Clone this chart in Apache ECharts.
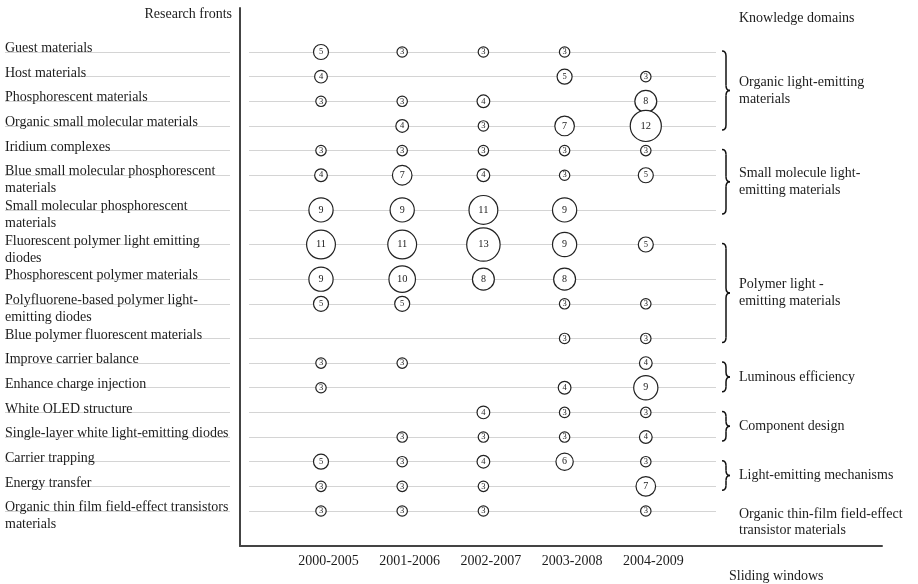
<!DOCTYPE html>
<html><head><meta charset="utf-8">
<script src="https://cdn.jsdelivr.net/npm/echarts@6/dist/echarts.min.js"></script>
<style>html,body{margin:0;padding:0;background:#fff}#c{width:918px;height:584px}</style>
</head><body><div id="c"></div>
<script>
// ---- data ----
const windows = ['2000-2005', '2001-2006', '2002-2007', '2003-2008', '2004-2009'];
const fronts = [
  'Guest materials',
  'Host materials',
  'Phosphorescent materials',
  'Organic small molecular materials',
  'Iridium complexes',
  'Blue small molecular phosphorescent\nmaterials',
  'Small molecular phosphorescent\nmaterials',
  'Fluorescent polymer light emitting\ndiodes',
  'Phosphorescent polymer materials',
  'Polyfluorene-based polymer light-\nemitting diodes',
  'Blue polymer fluorescent materials',
  'Improve carrier balance',
  'Enhance charge injection',
  'White OLED structure',
  'Single-layer white light-emitting diodes',
  'Carrier trapping',
  'Energy transfer',
  'Organic thin film field-effect transistors\nmaterials'
];
const v2000 = [5, 4, 3, null, 3, 4, 9, 11, 9, 5, null, 3, 3, null, null, 5, 3, 3];
const v2001 = [3, null, 3, 4, 3, 7, 9, 11, 10, 5, null, 3, null, null, 3, 3, 3, 3];
const v2002 = [3, null, 4, 3, 3, 4, 11, 13, 8, null, null, null, null, 4, 3, 4, 3, 3];
const v2003 = [3, 5, null, 7, 3, 3, 9, 9, 8, 3, 3, null, 4, 3, 3, 6, null, null];
const v2004 = [null, 3, 8, 12, 3, 5, null, 5, null, 3, 3, 4, 9, 3, 4, 3, 7, 3];
const columns = [v2000, v2001, v2002, v2003, v2004];

const domainNames = [
  'Organic light-emitting\nmaterials',
  'Small molecule light-\nemitting materials',
  'Polymer light -\nemitting materials',
  'Luminous efficiency',
  'Component design',
  'Light-emitting mechanisms',
  'Organic thin-film field-effect\ntransistor materials'
];
const domainFirst = [0, 4, 7, 11, 13, 15, 17];
const domainLast  = [3, 6, 10, 12, 14, 16, 17];

// ---- row layout: each front takes room according to how many lines its label has ----
const EXTRA_PER_LINE = 0.405;
const rowPos = [];
fronts.forEach((f, i) => {
  if (i === 0) { rowPos.push(0); return; }
  const prevLines = fronts[i - 1].split('\n').length;
  rowPos.push(rowPos[i - 1] + 1 + EXTRA_PER_LINE * (prevLines - 1));
});
const yMax = rowPos[rowPos.length - 1];
function frontAt(v) {
  let best = 0;
  rowPos.forEach((p, i) => { if (Math.abs(p - v) < Math.abs(rowPos[best] - v)) best = i; });
  return fronts[best];
}

// ---- chart ----
const FONT = 'Liberation Serif';
const TXT = '#1c1c1c';
const chart = echarts.init(document.getElementById('c'), null, { renderer: 'canvas' });

const hiddenVal = (gi) => ({ type: 'value', gridIndex: gi, show: false, min: 0, max: 1 });
const txt = (lh) => ({ fontFamily: FONT, fontSize: 14, color: TXT, lineHeight: lh });
const rowAxis = (gi, withLabels) => ({
  type: 'value', gridIndex: gi, inverse: true, min: 0, max: yMax,
  axisLine: { show: false },
  axisTick: { show: false, customValues: rowPos },
  splitLine: { show: true, lineStyle: { color: '#d4d4d4', width: 1 } },
  axisLabel: withLabels ? {
    show: true, customValues: rowPos, hideOverlap: false,
    align: 'left', verticalAlign: 'middle', margin: 244,
    fontFamily: FONT, fontSize: 14, color: TXT,
    formatter: (v) => {
      const lines = frontAt(v).split('\n');
      if (lines.length < 2) return '{c|' + lines[0] + '}\n{s| }';
      return '{a|' + lines[0] + '}\n{b|' + lines[1] + '}';
    },
    rich: {
      a: txt(27), b: txt(7), c: txt(4),
      s: { fontSize: 4, lineHeight: 7 }
    }
  } : { show: false }
});

const series = columns.map((col, ci) => ({
  type: 'scatter',
  name: windows[ci],
  xAxisIndex: 3,
  yAxisIndex: 3,
  data: col.map((v, ri) => v == null ? null : {
    value: [ci, rowPos[ri], v],
    label: { fontSize: v >= 10 ? 10.5 : (v >= 6 ? 10 : 8.5) }
  }).filter(d => d),
  symbol: 'circle',
  symbolSize: (d) => 2.3 * d[2] + 3.5,
  itemStyle: { color: '#fff', borderColor: '#222', borderWidth: 1.2, opacity: 1 },
  label: {
    show: true, position: 'inside', color: '#222', fontFamily: FONT,
    formatter: (p) => String(p.value[2])
  },
  emphasis: { disabled: true },
  z: 5
}));

chart.setOption({
  animation: false,
  backgroundColor: '#fff',
  grid: [
    { left: 240, top: 8, width: 642, height: 538 },
    { left: 249, top: 52, width: 467, height: 459 },
    { left: 5, top: 52, width: 225, height: 459 },
    { left: 280.4, top: 52, width: 406, height: 459 }
  ],
  xAxis: [
    { type: 'value', gridIndex: 0, min: 0, max: 1,
      axisLine: { show: true, lineStyle: { color: '#444', width: 2 } },
      axisTick: { show: false }, axisLabel: { show: false }, splitLine: { show: false } },
    hiddenVal(1),
    hiddenVal(2),
    { type: 'category', gridIndex: 3, data: windows, position: 'bottom', offset: 35,
      axisLine: { show: false }, axisTick: { show: false }, splitLine: { show: false },
      axisLabel: { margin: 8, fontFamily: FONT, fontSize: 14, color: TXT, padding: [0, 0, 0, 15] } }
  ],
  yAxis: [
    { type: 'value', gridIndex: 0, min: 0, max: 1,
      axisLine: { show: true, lineStyle: { color: '#444', width: 2 } },
      axisTick: { show: false }, axisLabel: { show: false }, splitLine: { show: false } },
    rowAxis(1, true),
    rowAxis(2, false),
    { type: 'value', gridIndex: 3, inverse: true, min: 0, max: yMax, show: false, splitLine: { show: false } }
  ],
  series: series
});

// ---- annotations placed through the axes' own scales ----
function rowY(i) { return chart.convertToPixel({ yAxisIndex: 1 }, rowPos[i]); }
const graphics = [];
const braceX = 722, braceW = 8, textX = 739;
const stroke = { stroke: '#111', lineWidth: 1.5, fill: 'none' };
domainNames.forEach((name, di) => {
  const y0 = rowY(domainFirst[di]), y1 = rowY(domainLast[di]);
  if (domainLast[di] > domainFirst[di]) {
    const a = y0 - 1, b = y1 + 4, m = (a + b) / 2, x = braceX, h = braceW / 2, w = braceW;
    const segs = [
      { type: 'bezierCurve', shape: { x1: x, y1: a, cpx1: x + h, cpy1: a, x2: x + h, y2: a + 5 } },
      { type: 'line', shape: { x1: x + h, y1: a + 5, x2: x + h, y2: m - 5 } },
      { type: 'bezierCurve', shape: { x1: x + h, y1: m - 5, cpx1: x + h, cpy1: m, x2: x + w, y2: m } },
      { type: 'bezierCurve', shape: { x1: x + w, y1: m, cpx1: x + h, cpy1: m, x2: x + h, y2: m + 5 } },
      { type: 'line', shape: { x1: x + h, y1: m + 5, x2: x + h, y2: b - 5 } },
      { type: 'bezierCurve', shape: { x1: x + h, y1: b - 5, cpx1: x + h, cpy1: b, x2: x, y2: b } }
    ];
    segs.forEach(s => { s.style = Object.assign({}, stroke); graphics.push(s); });
    graphics.push({ type: 'text', x: textX, y: m,
      style: { text: name, fontFamily: FONT, fontSize: 14, fill: TXT, lineHeight: 17,
               textAlign: 'left', verticalAlign: 'middle' } });
  } else {
    graphics.push({ type: 'text', x: textX, y: y0 + 11,
      style: { text: name, fontFamily: FONT, fontSize: 14, fill: TXT, lineHeight: 16,
               textAlign: 'left', verticalAlign: 'middle' } });
  }
});
graphics.push({ type: 'text', x: 232, y: 14,
  style: { text: 'Research fronts', fontFamily: FONT, fontSize: 14, fill: TXT,
           textAlign: 'right', verticalAlign: 'middle' } });
graphics.push({ type: 'text', x: textX, y: 18,
  style: { text: 'Knowledge domains', fontFamily: FONT, fontSize: 14, fill: TXT,
           textAlign: 'left', verticalAlign: 'middle' } });
graphics.push({ type: 'text', x: 729, y: 576,
  style: { text: 'Sliding windows', fontFamily: FONT, fontSize: 14, fill: TXT,
           textAlign: 'left', verticalAlign: 'middle' } });
chart.setOption({ graphic: graphics });
</script></body></html>
